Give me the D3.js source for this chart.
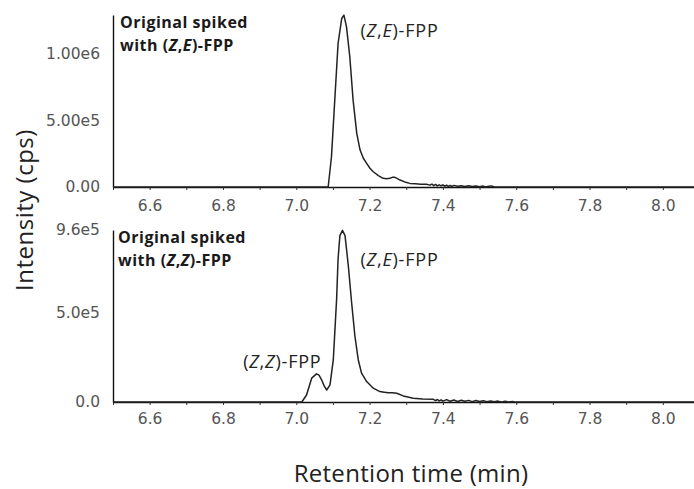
<!DOCTYPE html>
<html><head><meta charset="utf-8">
<script src="https://cdn.jsdelivr.net/npm/d3@7"></script>
<style>body{margin:0;background:#fff}svg{display:block}</style>
</head><body>
<script>
// ---- data ----
const timeTop = [6.50,7.080,7.087,7.096,7.105,7.114,7.124,7.130,7.137,7.146,7.155,7.165,7.174,7.183,7.192,7.201,7.210,7.224,7.237,7.246,7.255,7.262,7.269,7.276,7.283,7.296,7.310,7.325,7.340,7.355,7.365,7.370,7.375,7.380,7.385,7.390,7.395,7.400,7.405,7.410,7.415,7.420,7.425,7.430,7.440,7.450,7.460,7.470,7.480,7.490,7.500,7.510,7.515,7.525,7.533,7.540,8.085];
const intensityTop = [0,0,0,226000,649000,1072000,1259000,1284000,1196000,973000,649000,401000,276000,215000,177000,140000,114000,85000,65000,62000,65000,72000,72000,62000,52000,38000,27000,24000,21000,20000,14000,22000,10000,19000,8000,16000,9000,15000,6000,13000,5000,11000,4000,12000,5000,10000,3000,9000,3000,8000,2000,7000,0,6000,8000,0,0];
const timeBottom = [6.50,7.010,7.015,7.028,7.042,7.055,7.062,7.069,7.076,7.083,7.092,7.101,7.105,7.110,7.114,7.119,7.126,7.133,7.142,7.151,7.160,7.169,7.178,7.192,7.210,7.228,7.240,7.251,7.262,7.274,7.292,7.319,7.345,7.374,7.380,7.385,7.390,7.395,7.400,7.410,7.420,7.430,7.440,7.450,7.460,7.470,7.480,7.490,7.500,7.510,7.520,7.530,7.540,7.550,7.560,7.570,7.580,7.590,7.595,8.085];
const intensityBottom = [0,0,0,39000,133000,157000,150000,124000,90000,67000,96000,236000,386000,573000,798000,929000,958000,929000,760000,554000,367000,236000,161000,114000,77000,58000,55000,52000,52000,49000,34000,21000,17000,15000,8000,14000,6000,12000,5000,13000,4000,11000,3000,10000,4000,9000,2000,8000,3000,7000,2000,6000,1000,5000,0,4000,0,3000,0,0];
const xTicks = [6.5,6.6,6.7,6.8,6.9,7.0,7.1,7.2,7.3,7.4,7.5,7.6,7.7,7.8,7.9,8.0];
const xTickLabels = ["6.6","6.8","7.0","7.2","7.4","7.6","7.8","8.0"];
const yTicksTop = [0, 500000, 1000000];
const yTickLabelsTop = ["0.00","5.00e5","1.00e6"];
const yTicksBottom = [0, 500000, 960000];
const yTickLabelsBottom = ["0.0","5.0e5","9.6e5"];

const W = 694, H = 489;
const svg = d3.select("body").append("svg").attr("width", W).attr("height", H);

const x = d3.scaleLinear().domain([6.5, 8.085]).range([113, 694]);

function panel(times, vals, yDomain, yRange, yTicks, yLabels, padX, labelLine2, annos) {
  const y = d3.scaleLinear().domain(yDomain).range(yRange);
  const g = svg.append("g");
  const xa = d3.axisBottom(x).tickValues(xTicks).tickSize(3).tickSizeOuter(0).tickPadding(padX)
    .tickFormat(d => { const s = d.toFixed(1); return xTickLabels.includes(s) ? s : ""; });
  g.append("g").attr("transform", `translate(0,${yRange[0]})`).call(xa);
  const ya = d3.axisLeft(y).tickValues(yTicks).tickSize(0).tickSizeOuter(0).tickPadding(13)
    .tickFormat((d, i) => yLabels[i]);
  g.append("g").attr("transform", `translate(113,0)`).call(ya);
  g.selectAll(".domain").attr("stroke", "#111").attr("stroke-width", 1.4);
  g.selectAll(".tick line").attr("stroke", "#333").attr("stroke-width", 1);
  g.selectAll(".tick text").attr("font-family", "DejaVu Sans").attr("font-size", 15.5).attr("fill", "#555");

  const line = d3.line().x((d, i) => x(times[i])).y(d => y(d));
  g.append("path").datum(vals).attr("d", line).attr("fill", "none")
    .attr("stroke", "#222").attr("stroke-width", 1.5).attr("stroke-linejoin", "round");

  // panel label
  const lab = g.append("text").attr("font-family", "Open Sans").attr("font-weight", "bold")
    .attr("font-size", 16).attr("letter-spacing", 0.5).attr("fill", "#1a1a1a");
  lab.append("tspan").attr("x", labelLine2.x).attr("y", labelLine2.y1).text("Original spiked");
  const l2 = lab.append("tspan").attr("x", labelLine2.x).attr("y", labelLine2.y2);
  l2.append("tspan").text("with (");
  l2.append("tspan").attr("font-style", "italic").text(labelLine2.a);
  l2.append("tspan").text(",");
  l2.append("tspan").attr("font-style", "italic").text(labelLine2.b);
  l2.append("tspan").text(")-FPP");

  annos.forEach(a => {
    const t = g.append("text").attr("x", x(a.t)).attr("y", a.y).attr("font-family", "Open Sans")
      .attr("font-size", 18).attr("letter-spacing", 0.8).attr("fill", "#222");
    t.append("tspan").text("(");
    t.append("tspan").attr("font-style", "italic").text(a.a);
    t.append("tspan").text(",");
    t.append("tspan").attr("font-style", "italic").text(a.b);
    t.append("tspan").text(")-FPP");
  });
}

panel(timeTop, intensityTop, [0, 1285000], [187, 15], yTicksTop, yTickLabelsTop, 10,
  {x: 120, y1: 28, y2: 51, a: "Z", b: "E"},
  [{t: 7.175, y: 37, a: "Z", b: "E"}]);
panel(timeBottom, intensityBottom, [0, 960000], [402, 230], yTicksBottom, yTickLabelsBottom, 8,
  {x: 118, y1: 243, y2: 266, a: "Z", b: "Z"},
  [{t: 7.175, y: 266, a: "Z", b: "E"}, {t: 6.855, y: 368, a: "Z", b: "Z"}]);

// axis titles
svg.append("text").attr("transform", "translate(33,210) rotate(-90)").attr("text-anchor", "middle")
  .attr("font-family", "Open Sans").attr("font-size", 24).attr("letter-spacing", 0.5).attr("fill", "#222")
  .text("Intensity (cps)");
svg.append("text").attr("x", 411).attr("y", 482).attr("text-anchor", "middle")
  .attr("font-family", "Open Sans").attr("font-size", 24).attr("letter-spacing", 0.3).attr("fill", "#222")
  .text("Retention time (min)");
</script>
</body></html>
